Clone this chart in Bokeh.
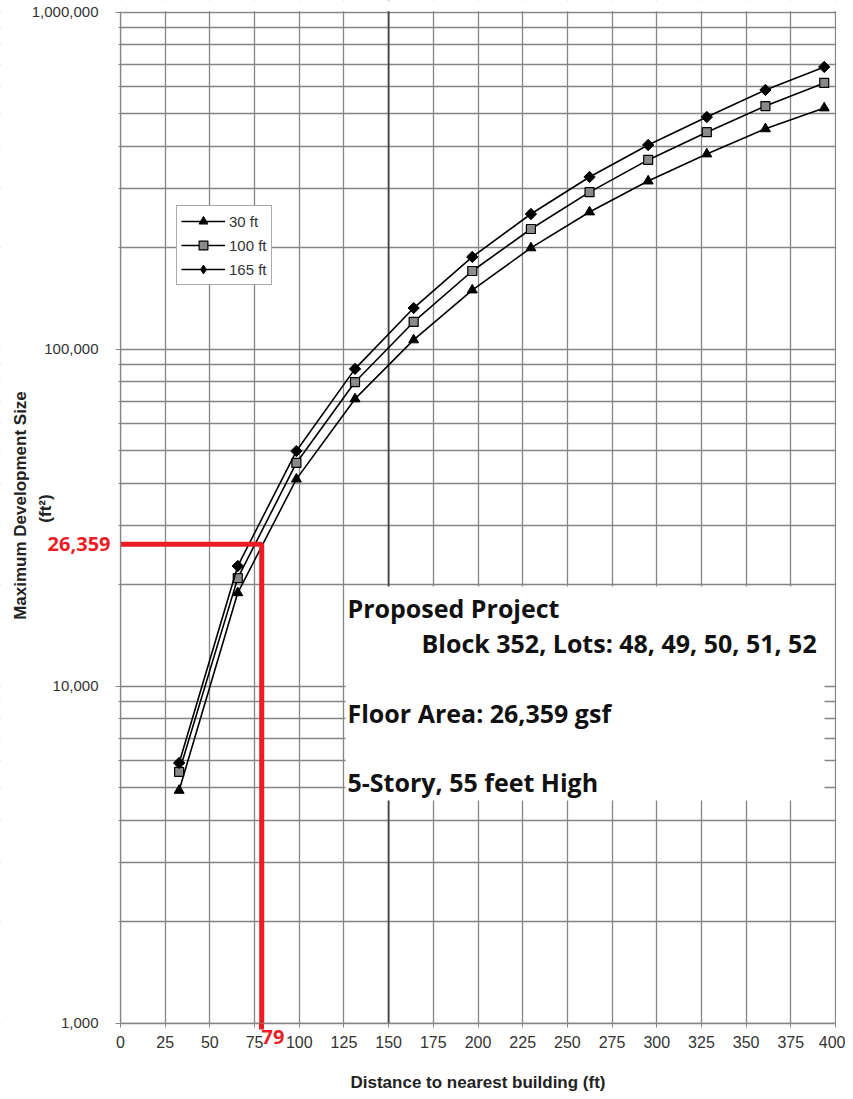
import math
from bokeh.plotting import figure
from bokeh.models import (FixedTicker, NumeralTickFormatter, Label, BoxAnnotation,
                          Span, Legend, LegendItem, Range1d, LinearAxis)
from bokeh.embed import file_html
from bokeh.resources import INLINE

# ---------------- data ----------------
distance_ft = [32.8, 65.6, 98.4, 131.2, 164.0, 196.8, 229.6, 262.4, 295.2, 328.0, 360.8, 393.7]
size_30ft = [4900, 18900, 41100, 71100, 106400, 149600, 199500, 255000, 315000, 379000, 450000, 519000]
size_100ft = [5560, 20900, 45900, 79800, 120300, 170400, 227000, 292000, 364000, 440000, 526000, 616000]
size_165ft = [5910, 22700, 49800, 87300, 132300, 187600, 251500, 323900, 403000, 488000, 587000, 687000]
series_names = ["30 ft", "100 ft", "165 ft"]

x_ticks = list(range(0, 401, 25))
x_min, x_max = 0, 400
y_major = [1000, 10000, 100000, 1000000]
y_minor = [m * d for d in (1000, 10000, 100000) for m in range(2, 10)]
y_min, y_max = 1000, 1000000

project_distance = 79
project_area = 26359
project_lines = ["Proposed Project",
                 "Block 352, Lots: 48, 49, 50, 51, 52",
                 "Floor Area: 26,359 gsf",
                 "5-Story, 55 feet High"]
y_title = ["Maximum Development Size", "(ft\u00b2)"]
x_title = "Distance to nearest building (ft)"

# ---------------- layout (pixels) ----------------
W, H = 845, 1091
X0_PX, PX_PER_FT = 120.0, 715.0 / 400.0       # x=0 at 120px, x=400 at 835px
Y6_PX, PX_PER_DEC = 11.5, 337.0                # 1e6 at 11.5px, one decade = 337px


def fx(px):
    return (px - X0_PX) / PX_PER_FT


def fy(py):
    return 10 ** (6 - (py - Y6_PX) / PX_PER_DEC)


GRID = "#858585"
TXT = "#333333"
RED = "#ed1c24"

p = figure(width=W, height=H, min_border=0, min_border_left=0, min_border_right=0,
           min_border_top=0, min_border_bottom=0,
           y_axis_type="log", x_range=Range1d(fx(0), fx(W)), y_range=Range1d(fy(H), fy(0)),
           output_backend="svg", toolbar_location=None)
p.background_fill_color = "white"
p.border_fill_color = "white"
p.outline_line_color = None

# primary axes, pinned to the data rectangle
xax = p.xaxis[0]
yax = p.yaxis[0]
xax.fixed_location = y_min
xax.bounds = (x_min, x_max)
yax.fixed_location = x_min
yax.bounds = (y_min, y_max)
xax.ticker = FixedTicker(ticks=x_ticks)
yax.ticker = FixedTicker(ticks=y_major, minor_ticks=y_minor)
yax.formatter = NumeralTickFormatter(format="0,0")
for ax in (xax, yax):
    ax.axis_line_color = GRID
    ax.axis_line_width = 1.3
    ax.major_tick_line_color = GRID
    ax.major_tick_in = 0
    ax.minor_tick_in = 0
    ax.major_label_text_color = TXT
    ax.major_label_text_font = "Liberation Sans"
xax.major_label_text_font_size = "16px"
yax.major_label_text_font_size = "15px"
xax.major_tick_out = 4
xax.minor_tick_line_color = None
xax.major_label_standoff = 9
yax.major_tick_out = 5
yax.minor_tick_out = 2
yax.minor_tick_line_color = GRID
yax.major_label_standoff = 17

xax.axis_label = x_title
xax.axis_label_text_font = "Liberation Sans"
xax.axis_label_text_font_style = "bold"
xax.axis_label_text_font_size = "17px"
xax.axis_label_text_color = "#222222"
xax.axis_label_standoff = 21

# grid
p.xgrid.bounds = (x_min - 1, x_max + 1)
p.ygrid.bounds = (y_min * 0.99, y_max * 1.01)
p.xgrid.grid_line_color = GRID
p.xgrid.grid_line_width = 1.3
p.ygrid.grid_line_color = GRID
p.ygrid.grid_line_width = 1.3
p.ygrid.minor_grid_line_color = GRID
p.ygrid.minor_grid_line_width = 1.3

p.add_layout(Span(location=150, dimension="height", line_color="#444444", line_width=1.8,
                  level="underlay"))

# white masks so grid lines stay inside the data rectangle
for kw in (dict(right=x_min), dict(left=fx(X0_PX + 400 * PX_PER_FT + 0.7)),
           dict(top=y_min), dict(bottom=fy(Y6_PX - 0.7))):
    p.add_layout(BoxAnnotation(fill_color="white", fill_alpha=1, line_color=None,
                               level="underlay", **kw))

# series
r1l = p.line(distance_ft, size_30ft, line_color="black", line_width=1.6)
r1m = p.scatter(distance_ft, size_30ft, marker="triangle", size=10,
                fill_color="black", line_color="black")
r2l = p.line(distance_ft, size_100ft, line_color="black", line_width=1.6)
r2m = p.scatter(distance_ft, size_100ft, marker="square", size=9,
                fill_color="#8a8a8a", line_color="black", line_width=1.2)
r3l = p.line(distance_ft, size_165ft, line_color="black", line_width=1.6)
# diamond swatch used by the legend (sits hidden beneath the rotated squares)
r3k = p.scatter(distance_ft, size_165ft, marker="diamond", size=10,
                fill_color="black", line_color="black")
r3m = p.scatter(distance_ft, size_165ft, marker="square", angle=math.pi / 4, size=8,
                fill_color="black", line_color="black")

legend = Legend(items=[LegendItem(label=series_names[0], renderers=[r1l, r1m]),
                       LegendItem(label=series_names[1], renderers=[r2l, r2m]),
                       LegendItem(label=series_names[2], renderers=[r3l, r3k])],
                location=(176, H - 285))
legend.label_text_font = "Liberation Sans"
legend.label_text_font_size = "15px"
legend.label_text_color = TXT
legend.glyph_width = 44
legend.glyph_height = 22
legend.label_height = 17
legend.spacing = 2
legend.padding = 4
legend.margin = 0
legend.label_standoff = 4
legend.border_line_color = "#555555"
legend.border_line_width = 1
legend.background_fill_alpha = 1
p.add_layout(legend)

# project red lines
p.line([x_min, project_distance, project_distance], [project_area, project_area, y_min],
       line_color=RED, line_width=5)
ext_ax = LinearAxis(ticker=FixedTicker(ticks=[project_distance]), fixed_location=y_min,
                    axis_line_color=None, minor_tick_line_color=None,
                    major_tick_line_color=RED, major_tick_line_width=5,
                    major_tick_in=0, major_tick_out=6, major_label_text_alpha=0)
p.add_layout(ext_ax, "below")

p.add_layout(Label(x=x_min, y=project_area, x_offset=-10, text="{:,}".format(project_area),
                   text_align="right", text_baseline="middle", text_color=RED,
                   text_font="Open Sans", text_font_style="bold", text_font_size="20px"))
p.add_layout(Label(x=fx(272.5), y=fy(1036), text=str(project_distance),
                   text_align="center", text_baseline="middle", text_color=RED,
                   text_font="Open Sans", text_font_style="bold", text_font_size="20px"))

# y axis title, two lines
for txt, (cx, cy) in zip(y_title, [(20, 505), (45, 508)]):
    p.add_layout(Label(x=fx(cx), y=fy(cy), text=txt, angle=math.pi / 2,
                       text_align="center", text_baseline="middle", text_color="#222222",
                       text_font="Liberation Sans", text_font_style="bold",
                       text_font_size="17px"))

# annotation box with the project description
p.add_layout(BoxAnnotation(left=fx(345), right=fx(824), bottom=fy(800), top=fy(586),
                           fill_color="white", fill_alpha=1, line_color=None))
box_pos = [(347, 607), (421, 642), (347, 712), (347, 781)]
for (bx, by), t in zip(box_pos, project_lines):
    p.add_layout(Label(x=fx(bx), y=fy(by), text=t, text_align="left", text_baseline="middle",
                       text_color="#111111", text_font="Open Sans", text_font_style="bold",
                       text_font_size="25px"))

open("out.html", "w").write(file_html(p, INLINE))
